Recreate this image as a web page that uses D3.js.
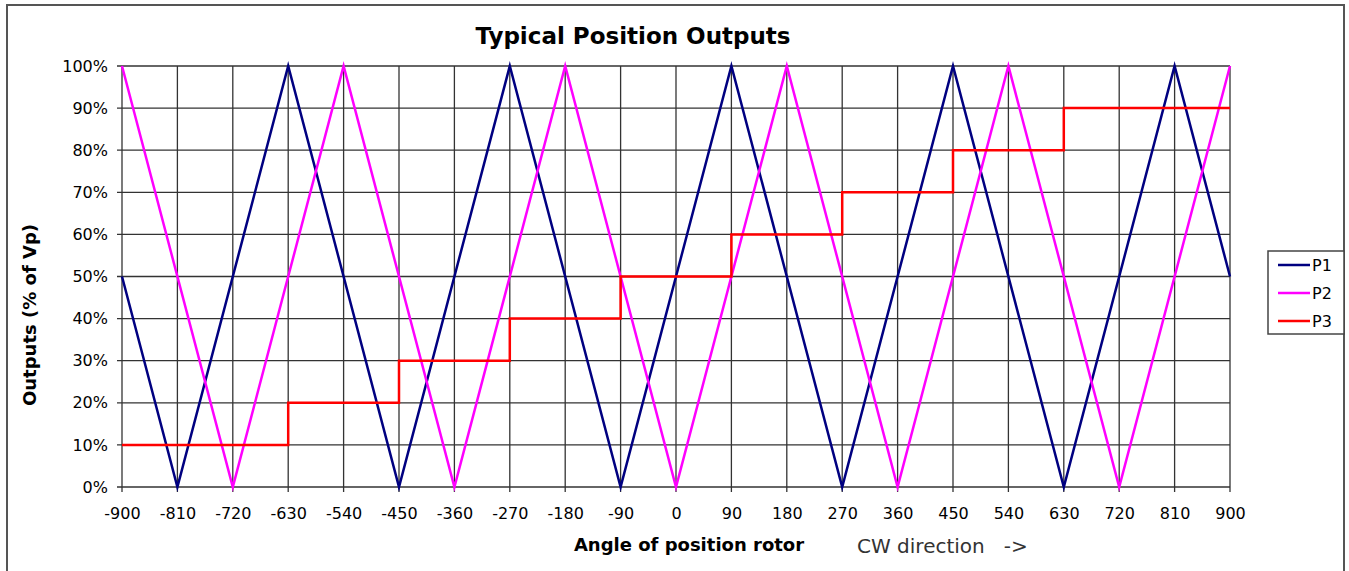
<!DOCTYPE html>
<meta charset="utf-8">
<html>
<head>
<style>
  body { margin: 0; background: #fff; }
  text { font-family: "DejaVu Sans", Verdana, sans-serif; }
</style>
</head>
<body>
<script src="https://d3js.org/d3.v7.js"></script>
<svg width="1349" height="571"></svg>
<script>
// data
var xTicks = [-900, -810, -720, -630, -540, -450, -360, -270, -180, -90, 0, 90, 180, 270, 360, 450, 540, 630, 720, 810, 900];
var yTicks = [0, 10, 20, 30, 40, 50, 60, 70, 80, 90, 100];

var p1Angle = [-900, -810, -630, -450, -270, -90, 90, 270, 450, 630, 810, 900];
var p1Value = [50, 0, 100, 0, 100, 0, 100, 0, 100, 0, 100, 50];

var p2Angle = [-900, -720, -540, -360, -180, 0, 180, 360, 540, 720, 900];
var p2Value = [100, 0, 100, 0, 100, 0, 100, 0, 100, 0, 100];

var p3Angle = [-900, -630, -450, -270, -90, 90, 270, 450, 630, 900];
var p3Value = [10, 20, 30, 40, 50, 60, 70, 80, 90, 90];

var seriesNames = ["P1", "P2", "P3"];
var seriesColors = ["#000080", "#ff00ff", "#ff0000"];

var svg = d3.select("svg");

// outer frame
svg.append("rect")
    .attr("x", 7).attr("y", 5)
    .attr("width", 1337).attr("height", 580)
    .attr("fill", "none")
    .attr("stroke", "#555")
    .attr("stroke-width", 2);

var x = d3.scaleLinear().domain([-900, 900]).range([122, 1230]);
var y = d3.scaleLinear().domain([0, 100]).range([487, 66]);

// grid
var grid = svg.append("g");
grid.selectAll(".vg").data(xTicks).enter().append("line")
    .attr("x1", function (d) { return x(d); }).attr("x2", function (d) { return x(d); })
    .attr("y1", y(100)).attr("y2", y(0) + 5)
    .attr("stroke", "#333").attr("stroke-width", 1.3);
grid.selectAll(".hg").data(yTicks).enter().append("line")
    .attr("x1", x(-900) - 5).attr("x2", x(900))
    .attr("y1", function (d) { return y(d); }).attr("y2", function (d) { return y(d); })
    .attr("stroke", "#333").attr("stroke-width", 1.3);

// axes labels
var xAxis = svg.append("g")
    .attr("transform", "translate(0," + y(0) + ")")
    .call(d3.axisBottom(x).tickValues(xTicks).tickSize(0).tickPadding(21).tickFormat(function (d) { return d < 0 ? "-" + Math.abs(d) : d; }));
xAxis.select(".domain").remove();
xAxis.selectAll("text")
    .attr("font-size", "16px")
    .attr("fill", "#000")
    .style("font-family", "DejaVu Sans, sans-serif");

var yAxis = svg.append("g")
    .attr("transform", "translate(" + x(-900) + ",0)")
    .call(d3.axisLeft(y).tickValues(yTicks).tickSize(0).tickPadding(14).tickFormat(function (d) { return d + "%"; }));
yAxis.select(".domain").remove();
yAxis.selectAll("text")
    .attr("font-size", "16px")
    .attr("fill", "#000")
    .style("font-family", "DejaVu Sans, sans-serif");

// lines
var line = d3.line()
    .x(function (d) { return x(d[0]); })
    .y(function (d) { return y(d[1]); });
var stepLine = d3.line()
    .x(function (d) { return x(d[0]); })
    .y(function (d) { return y(d[1]); })
    .curve(d3.curveStepAfter);

var p1 = p1Angle.map(function (a, i) { return [a, p1Value[i]]; });
var p2 = p2Angle.map(function (a, i) { return [a, p2Value[i]]; });
var p3 = p3Angle.map(function (a, i) { return [a, p3Value[i]]; });

svg.append("path").datum(p1).attr("d", line)
    .attr("fill", "none").attr("stroke", seriesColors[0]).attr("stroke-width", 2.5);
svg.append("path").datum(p2).attr("d", line)
    .attr("fill", "none").attr("stroke", seriesColors[1]).attr("stroke-width", 2.5);
svg.append("path").datum(p3).attr("d", stepLine)
    .attr("fill", "none").attr("stroke", seriesColors[2]).attr("stroke-width", 2.5);

// titles
svg.append("text")
    .attr("x", 633).attr("y", 44)
    .attr("text-anchor", "middle")
    .attr("font-size", "23px").attr("font-weight", "bold")
    .text("Typical Position Outputs");

svg.append("text")
    .attr("x", 689).attr("y", 551)
    .attr("text-anchor", "middle")
    .attr("font-size", "18px").attr("font-weight", "bold")
    .text("Angle of position rotor");

svg.append("text")
    .attr("x", 857).attr("y", 553)
    .attr("font-size", "20px").attr("fill", "#333")
    .style("white-space", "pre")
    .text("CW direction   ->");

svg.append("text")
    .attr("transform", "translate(36,315) rotate(-90)")
    .attr("text-anchor", "middle")
    .attr("font-size", "18px").attr("font-weight", "bold")
    .text("Outputs (% of Vp)");

// legend
var legend = svg.append("g").attr("transform", "translate(1268,251)");
legend.append("rect")
    .attr("width", 76).attr("height", 83)
    .attr("fill", "#fff").attr("stroke", "#444").attr("stroke-width", 1.5);
var items = legend.selectAll(".item").data(seriesNames).enter().append("g")
    .attr("transform", function (d, i) { return "translate(10," + (14 + i * 28) + ")"; });
items.append("line")
    .attr("x1", 0).attr("x2", 32)
    .attr("stroke", function (d, i) { return seriesColors[i]; })
    .attr("stroke-width", 2.5);
items.append("text")
    .attr("x", 34).attr("y", 6)
    .attr("font-size", "16px")
    .text(function (d) { return d; });
</script>
</body>
</html>
